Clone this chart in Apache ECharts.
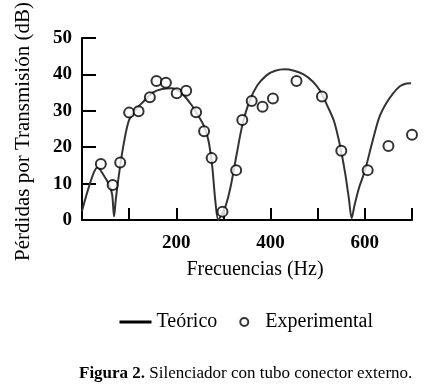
<!DOCTYPE html>
<html>
<head>
<meta charset="UTF-8">
<title>Silenciador</title>
<script src="https://cdn.jsdelivr.net/npm/echarts@6/dist/echarts.min.js"></script>
<style>
	html, body { margin: 0; padding: 0; background: #fff; }
	#main { width: 427px; height: 386px; }
</style>
</head>
<body>
<div id="main"></div>
<script type="text/javascript">
	// curva teorica
	var theoFreq = [0, 12, 25, 33, 45, 58, 64, 68, 72, 80, 90, 100, 115, 130, 150, 170, 190, 210, 230, 245, 258, 268, 276, 283, 289,
		296, 305, 315, 328, 340, 355, 372, 392, 410, 430, 450, 470, 490, 505, 520, 535, 548, 558, 566, 572,
		578, 588, 600, 615, 630, 645, 660, 675, 688, 698];
	var theoLoss = [2.5, 8, 13, 14.5, 12.5, 9.5, 7, 1, 6, 14, 22, 27.5, 30.5, 32.5, 35, 36, 36.2, 35, 32, 29, 26, 22, 15, 5, 0,
		1.5, 4, 9, 18, 26, 32.5, 37, 39.8, 41, 41.4, 41, 40, 38, 35.5, 31.5, 27, 20, 13, 6, 0.5,
		4, 9, 13.5, 21, 28, 32, 34.8, 36.8, 37.5, 37.6];
	// puntos experimentales
	var expFreq = [40, 65, 81, 100, 120, 144, 158, 178, 201, 221, 242, 259, 275, 298, 327, 340, 360, 383, 405, 455, 509, 550, 606, 650, 700];
	var expLoss = [15.4, 9.6, 15.8, 29.5, 29.9, 33.7, 38.2, 37.7, 34.8, 35.5, 29.6, 24.4, 17, 2.3, 13.7, 27.5, 32.7, 31.1, 33.4, 38.2, 33.9, 19, 13.7, 20.3, 23.4];
	var xLabels = [200, 400, 600];

	var font = "'Liberation Serif', 'DejaVu Serif', serif";
	var theo = [], exp = [];
	for (var i = 0; i < theoFreq.length; i++) theo.push([theoFreq[i], theoLoss[i]]);
	for (var j = 0; j < expFreq.length; j++) exp.push([expFreq[j], expLoss[j]]);

	var myChart = echarts.init(document.getElementById('main'));
	var option = {
		animation: false,
		title: {
			text: '{b|Figura 2.} Silenciador con tubo conector externo.',
			left: 74,
			top: 360,
			textStyle: {
				fontFamily: font, fontSize: 17, fontWeight: 'normal', color: '#000',
				rich: { b: { fontFamily: font, fontSize: 17, fontWeight: 'bold', color: '#000' } }
			}
		},
		legend: {
			left: 113,
			top: 307,
			itemWidth: 32,
			itemHeight: 8,
			itemGap: 22,
			textStyle: { fontFamily: font, fontSize: 20, color: '#000' },
			data: [{
				name: 'Teórico',
				itemStyle: { opacity: 0 },
				lineStyle: { width: 3, color: '#000' }
			}, {
				name: 'Experimental'
			}]
		},
		grid: { left: 82, right: 15, top: 38, bottom: 166, outerBoundsMode: 'none' },
		xAxis: {
			type: 'value',
			min: 0, max: 700, interval: 100,
			name: 'Frecuencias (Hz)',
			nameLocation: 'middle',
			nameGap: 40,
			nameTextStyle: { fontFamily: font, fontSize: 20, color: '#000', padding: [0, 0, 0, 16] },
			splitLine: { show: false },
			axisLine: { lineStyle: { color: '#000', width: 2 } },
			axisTick: { inside: true, length: 12, lineStyle: { color: '#000', width: 2 } },
			axisLabel: {
				margin: 14, fontFamily: font, fontSize: 19, fontWeight: 'bold', color: '#000',
				formatter: function (v) { return xLabels.indexOf(v) >= 0 ? v : ''; }
			}
		},
		yAxis: {
			type: 'value',
			min: 0, max: 50, interval: 10,
			name: 'Pérdidas por Transmisión (dB)',
			nameLocation: 'middle',
			nameGap: 48,
			nameTextStyle: { fontFamily: font, fontSize: 21, color: '#000', padding: [0, 5, 0, 0] },
			splitLine: { show: false },
			axisLine: { show: true, lineStyle: { color: '#000', width: 2 } },
			axisTick: { show: true, inside: true, length: 14, lineStyle: { color: '#000', width: 2 } },
			axisLabel: { margin: 10, fontFamily: font, fontSize: 19, fontWeight: 'bold', color: '#000' }
		},
		series: [{
			name: 'Teórico',
			type: 'line',
			data: theo,
			smooth: 0.3,
			symbol: 'none',
			lineStyle: { color: '#333', width: 2 },
			itemStyle: { color: '#222' },
			z: 2
		}, {
			name: 'Experimental',
			type: 'scatter',
			data: exp,
			symbol: 'circle',
			symbolSize: 10,
			itemStyle: { color: '#fff', borderColor: '#000', borderWidth: 2 },
			z: 3
		}]
	};
	myChart.setOption(option);
</script>
</body>
</html>
